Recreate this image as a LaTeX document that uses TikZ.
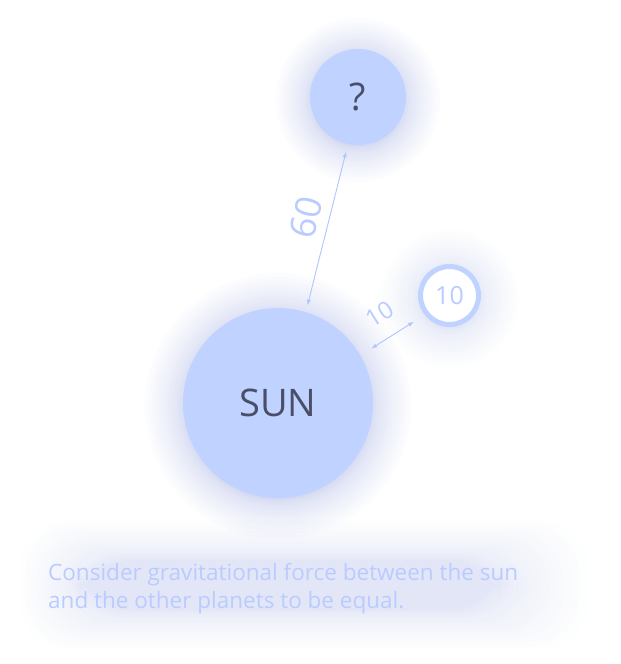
\documentclass[tikz,border=0pt]{standalone}
\usepackage{fontspec}
\setmainfont{Open Sans}

\definecolor{planet}{HTML}{C0D2FF}
\definecolor{halo}{HTML}{A8B4E4}
\definecolor{ink}{HTML}{4A4E68}
\definecolor{note}{HTML}{BACBFF}
\definecolor{dimline}{HTML}{B0C5FF}

\tikzset{
  planet/.style={circle, fill=planet, text=ink, inner sep=0pt, font=\fontsize{38}{44}\selectfont},
  ring/.style={circle, draw=planet, line width=5pt, fill=white, text=note, inner sep=0pt, font=\fontsize{25}{30}\selectfont},
  dim/.style={latex-latex, draw=dimline, line width=0.9pt},
  dimlabel/.style={text=note, sloped, midway}
}

\begin{document}
\begin{tikzpicture}[x=1pt, y=-1pt]
\useasboundingbox (0,0) rectangle (621,664);
\coordinate (c-sun) at (278,403);
\coordinate (c-q) at (358,97);
\coordinate (c-ten) at (449.5,295.5);

% soft glows
\foreach \g in {1,...,20} \fill[halo, opacity=.035] ([yshift=-3pt]c-sun) circle ({93pt+0.1pt*\g*\g});
\foreach \g in {1,...,20} \fill[halo, opacity=.035] ([yshift=-3pt]c-q) circle ({46pt+0.09pt*\g*\g});
\foreach \g in {1,...,20} \fill[halo, opacity=.02] ([yshift=-3pt]c-ten) circle ({30pt+0.1pt*\g*\g});
\foreach \g in {1,...,20} \fill[halo, opacity=.018, rounded corners=50pt] ({80-0.15*\g*\g},{560-0.1*\g*\g}) rectangle ({500+0.22*\g*\g},{610+0.1*\g*\g});

\node[planet, minimum size=190pt] (sun) at (c-sun) {SUN};
\node[planet, minimum size=96pt] (q) at (c-q) {?};
\node[ring, minimum size=58pt] (ten) at (c-ten) {10};

\draw[dim, shorten <=7pt, shorten >=8pt] (sun.73) -- (q.258)
  node[dimlabel, pos=.53, above=6pt, font=\fontsize{36}{40}\selectfont] {60};
\draw[dim, shorten <=13pt, shorten >=13pt] (sun.30) -- (ten.218)
  node[dimlabel, above=12pt, font=\fontsize{24}{28}\selectfont] {10};

\node[text=note, anchor=north west, align=left, inner sep=0pt, font=\fontsize{22.5}{28}\selectfont] (hint) at (48,563)
  {Consider gravitational force between the sun\\and the other planets to be equal.};
\end{tikzpicture}
\end{document}
